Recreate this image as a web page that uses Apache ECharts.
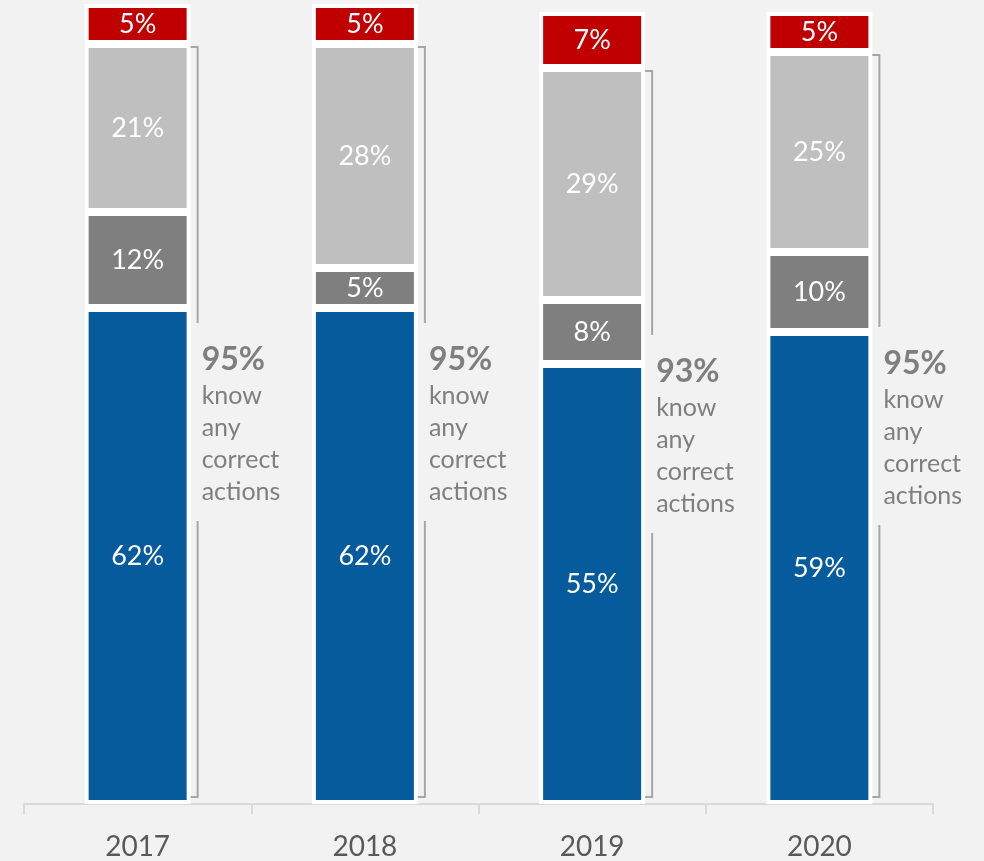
<!DOCTYPE html>
<html>
<head>
<meta charset="utf-8">
<script src="https://cdn.jsdelivr.net/npm/echarts@6/dist/echarts.min.js"></script>
<style>
  html, body { margin: 0; padding: 0; background: #f2f2f2; }
  #chart { width: 984px; height: 861px; }
</style>
</head>
<body>
<div id="chart"></div>
<script>
// Survey years on the category axis
const years = ['2017', '2018', '2019', '2020'];
// Stacked shares, bottom to top (percent)
const mainActions = [62, 62, 55, 59];
const otherActions = [12, 5, 8, 10];
const partialActions = [21, 28, 29, 25];
const noActions = [5, 5, 7, 5];
// Share that knows any correct action (bracket label)
const knowAny = [95, 95, 93, 95];

const FONT = 'Lato, "Noto Sans", sans-serif';

function segment(name, values, color) {
  return {
    name: name,
    type: 'bar',
    stack: 'total',
    barWidth: 106,
    data: values,
    itemStyle: { color: color, borderColor: '#ffffff', borderWidth: 4 },
    label: {
      show: true,
      position: 'inside',
      color: '#ffffff',
      fontSize: 27,
      fontFamily: FONT,
      formatter: p => p.value + '%'
    }
  };
}

// Bracket beside each bar spanning the three lower segments, with its caption
const bracketData = years.map((y, i) => [
  i,
  mainActions[i] + otherActions[i] + partialActions[i],
  knowAny[i]
]);

function renderBracket(params, api) {
  const i = api.value(0);
  const span = api.value(1);
  const pct = api.value(2);
  const base = api.coord([i, 0]);
  const top = api.coord([i, span]);
  const x = base[0] + 60;
  const yTop = top[1] + 3;
  const yBot = base[1] - 7;
  const mid = (yTop + yBot) / 2;
  const gapHalf = 99;
  const lineStyle = { stroke: '#a6a6a6', lineWidth: 2, fill: null };
  return {
    type: 'group',
    children: [
      { type: 'polyline', shape: { points: [[x - 7, yTop], [x, yTop], [x, mid - gapHalf]] }, style: lineStyle },
      { type: 'polyline', shape: { points: [[x, mid + gapHalf], [x, yBot], [x - 7, yBot]] }, style: lineStyle },
      {
        type: 'text',
        style: {
          x: x + 4,
          y: mid + 2,
          align: 'left',
          verticalAlign: 'middle',
          text: '{b|' + pct + '%}\n{t|know}\n{t|any}\n{t|correct}\n{t|actions}',
          fill: '#7f7f7f',
          fontFamily: FONT,
          rich: {
            b: { fontSize: 32, fontWeight: 'bold', lineHeight: 40, fill: '#7f7f7f', fontFamily: FONT },
            t: { fontSize: 25, lineHeight: 32, fill: '#7f7f7f', fontFamily: FONT }
          }
        }
      }
    ]
  };
}

const chart = echarts.init(document.getElementById('chart'));
chart.setOption({
  backgroundColor: '#f2f2f2',
  animation: false,
  textStyle: { fontFamily: FONT },
  grid: { left: 24, right: 51, top: 4, bottom: 57 },
  xAxis: {
    type: 'category',
    data: years,
    axisLine: { lineStyle: { color: '#d9d9d9', width: 2 } },
    axisTick: { show: true, length: 10, lineStyle: { color: '#d9d9d9', width: 2 } },
    axisLabel: { color: '#595959', fontSize: 28, margin: 29, fontFamily: FONT }
  },
  yAxis: { type: 'value', min: 0, max: 100, show: false },
  series: [
    segment('Main actions', mainActions, '#055b9c'),
    segment('Other actions', otherActions, '#7f7f7f'),
    segment('Partial actions', partialActions, '#bfbfbf'),
    segment('No actions', noActions, '#c00000'),
    {
      type: 'custom',
      name: 'Know any',
      data: bracketData,
      encode: { x: 0, y: 1 },
      renderItem: renderBracket,
      silent: true,
      z: 5
    }
  ]
});
</script>
</body>
</html>
